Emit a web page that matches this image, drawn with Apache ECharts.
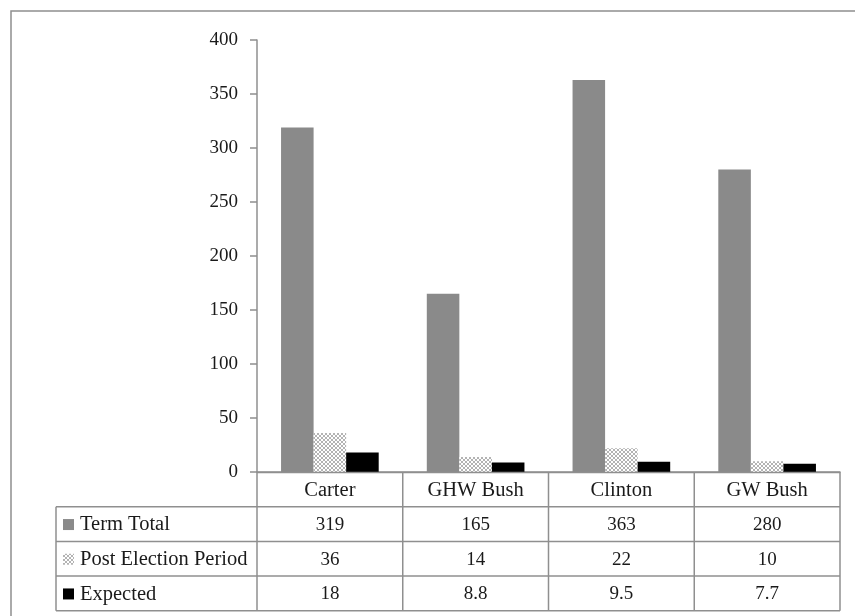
<!DOCTYPE html>
<html><head><meta charset="utf-8">
<script src="https://cdn.jsdelivr.net/npm/echarts@6/dist/echarts.min.js"></script>
<style>html,body{margin:0;padding:0;background:#fff}#c{width:855px;height:616px}</style>
</head><body><div id="c"></div>
<script>
const categories = ['Carter', 'GHW Bush', 'Clinton', 'GW Bush'];
const seriesNames = ['Term Total', 'Post Election Period', 'Expected'];
const termTotal = [319, 165, 363, 280];
const postElection = [36, 14, 22, 10];
const expected = [18, 8.8, 9.5, 7.7];
const yTicks = [0, 50, 100, 150, 200, 250, 300, 350, 400];

const FONT = 'Liberation Serif';
const FS_NUM = 19;
const FS_TXT = 20.5;
const LINE = '#8f8f8f';

// hatch pattern
const pc = document.createElement('canvas');
pc.width = 4; pc.height = 4;
const pctx = pc.getContext('2d');
pctx.fillStyle = '#ffffff'; pctx.fillRect(0, 0, 4, 4);
pctx.fillStyle = '#b3b3b3';
[[0,0],[1,1],[2,2],[3,3],[3,0],[2,1],[1,2],[0,3]].forEach(p => pctx.fillRect(p[0], p[1], 1, 1));
const hatch = { image: pc, repeat: 'repeat' };

const colors = ['#8a8a8a', hatch, '#000000'];
const seriesData = [termTotal, postElection, expected];

const chart = echarts.init(document.getElementById('c'));
chart.setOption({
  animation: false,
  backgroundColor: '#fff',
  grid: { left: 257, right: 15, top: 40, bottom: 144 },
  xAxis: {
    type: 'category', data: categories,
    axisLine: { lineStyle: { color: LINE, width: 1.5 } },
    axisTick: { show: false }, axisLabel: { show: false }
  },
  yAxis: {
    type: 'value', min: yTicks[0], max: yTicks[yTicks.length - 1], interval: yTicks[1] - yTicks[0],
    axisLine: { show: true, lineStyle: { color: LINE, width: 1.5 } },
    axisTick: { show: true, length: 7, lineStyle: { color: LINE, width: 1.5 } },
    splitLine: { show: false },
    axisLabel: { margin: 19, fontFamily: FONT, fontSize: FS_NUM, color: '#1a1a1a' }
  },
  series: seriesNames.map((n, i) => ({
    name: n, type: 'bar', data: seriesData[i],
    barGap: '0%', barCategoryGap: '33%',
    itemStyle: { color: colors[i] }
  }))
});

// data table
const cx0 = chart.convertToPixel({ xAxisIndex: 0 }, categories[0]);
const cx1 = chart.convertToPixel({ xAxisIndex: 0 }, categories[1]);
const bw = cx1 - cx0;
const left = cx0 - bw / 2;
const right = left + bw * categories.length;
const yBase = chart.convertToPixel({ yAxisIndex: 0 }, 0);
const rowH = 34.7;
const tableLeft = 56;
const g = [];
const lineEl = (x1, y1, x2, y2) => ({ type: 'line', shape: { x1, y1, x2, y2 }, style: { stroke: LINE, lineWidth: 1.5 }, z: 10 });
const textEl = (x, y, t, fs, align) => ({ type: 'text', x, y, style: { text: t, fontFamily: FONT, fontSize: fs, fill: '#1a1a1a', align: align || 'center', verticalAlign: 'middle' }, z: 11 });

// outer border
g.push({ type: 'rect', shape: { x: 11, y: 11, width: 900, height: 700 }, style: { fill: 'none', stroke: LINE, lineWidth: 1.5 }, z: 1 });

const bottom = yBase + rowH * 4;
for (let i = 0; i <= categories.length; i++) {
  const x = left + bw * i;
  g.push(lineEl(x, yBase, x, bottom));
}
g.push(lineEl(tableLeft, yBase + rowH, tableLeft, bottom));
g.push(lineEl(left, yBase + 0.5, right, yBase + 0.5));
for (let r = 1; r <= 4; r++) {
  g.push(lineEl(tableLeft, yBase + rowH * r, right, yBase + rowH * r));
}
categories.forEach((c, i) => g.push(textEl(left + bw * (i + 0.5), yBase + rowH / 2 + 1, c, FS_TXT)));
seriesNames.forEach((n, r) => {
  const yc = yBase + rowH * (r + 1.5) + 1;
  g.push({ type: 'rect', shape: { x: 63, y: yc - 6, width: 11, height: 11 }, style: { fill: colors[r] }, z: 11 });
  g.push(textEl(80, yc, n, FS_TXT, 'left'));
  seriesData[r].forEach((v, i) => g.push(textEl(left + bw * (i + 0.5), yc, String(v), FS_NUM)));
});
chart.setOption({ graphic: g });
</script></body></html>
